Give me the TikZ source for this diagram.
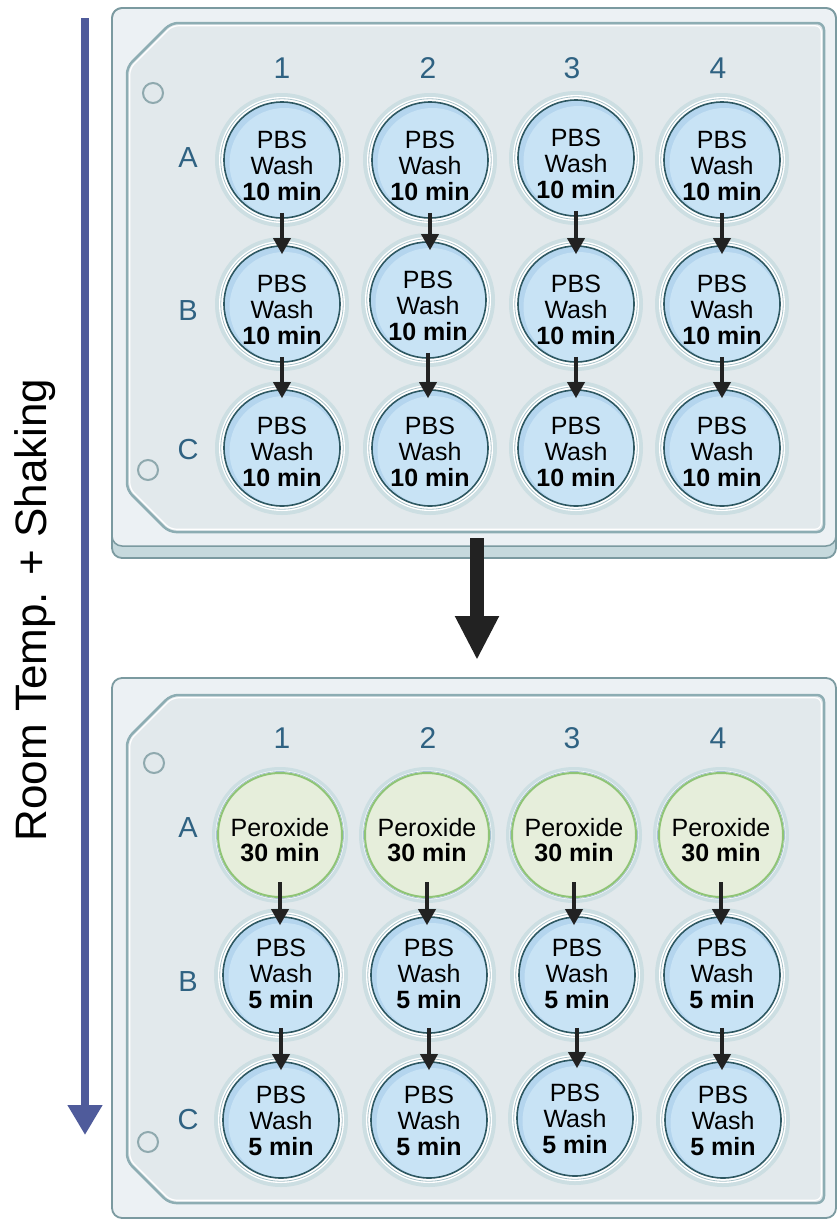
\documentclass[tikz,border=0pt]{standalone}
\usepackage{fontspec}
\setmainfont{Liberation Sans}
\usetikzlibrary{arrows.meta,calc}
\definecolor{platefill}{HTML}{ECF1F4}
\definecolor{plateedge}{HTML}{7B9AA0}
\definecolor{bevelfill}{HTML}{C6D9DD}
\definecolor{panelfill}{HTML}{E2E9EC}
\definecolor{panelline}{HTML}{8DADB3}
\definecolor{halocol}{HTML}{CCDEE2}
\definecolor{ringcol}{HTML}{A9C3CA}
\definecolor{pbsfill}{HTML}{C8E3F5}
\definecolor{pbsband}{HTML}{B4D5EE}
\definecolor{pbsedge}{HTML}{2E5862}
\definecolor{perfill}{HTML}{E6EEDB}
\definecolor{peredge}{HTML}{8FC476}
\definecolor{perring}{HTML}{A6C2D2}
\definecolor{labcol}{HTML}{2F6282}
\definecolor{sidecol}{HTML}{4F5B9B}
\definecolor{arrcol}{HTML}{222222}
\tikzset{
  pbs/.style={circle, minimum size=116pt, inner sep=0pt, fill=pbsfill, draw=pbsedge, line width=1.6pt,
    path picture={\fill[pbsband] (path picture bounding box.center) circle (58pt);
      \fill[pbsfill] ($(path picture bounding box.center)+(2.5pt,-3pt)$) circle (55pt);}},
  perox/.style={circle, minimum size=124pt, inner sep=0pt, fill=perfill, draw=peredge, line width=2pt},
  wtext/.style={align=center, inner sep=0pt, text=black, font=\fontsize{25pt}{26pt}\selectfont},
  ptext/.style={align=center, inner sep=0pt, text=black, font=\fontsize{25pt}{25pt}\selectfont},
  collab/.style={inner sep=0pt, text=labcol, font=\fontsize{30pt}{30pt}\selectfont},
  rowlab/.style={inner sep=0pt, text=labcol, font=\fontsize{29pt}{29pt}\selectfont},
  marker/.style={draw=plateedge!85, line width=2pt},
  warrow/.style={draw=arrcol, line width=3.5pt, -{Triangle[width=17pt,length=16pt]}, shorten <=-6pt, shorten >=-9pt},
}
\newcommand{\drawpanel}[2]{%
  \filldraw[fill=panelfill, draw=panelline, line width=2.5pt, rounded corners=7pt]
    (171,#1) -- (824,#1) -- (824,#2) -- (169,#2) -- (127,{#2-42}) -- (127,{#1+44}) -- cycle;
  \draw[white, line width=1.2pt, rounded corners=6pt]
    (172.2,{#1+2.8}) -- (821.2,{#1+2.8}) -- (821.2,{#2-2.8}) -- (170.2,{#2-2.8}) -- (129.8,{#2-43.2}) -- (129.8,{#1+45.2}) -- cycle;
}
\newcommand{\pbswell}[5]{%
  \fill[halocol] (#2,#3) circle (67pt);
  \fill[white] (#2,#3) circle (63pt);
  \draw[ringcol, line width=0.8pt] (#2,#3) circle (61.2pt);
  \node[pbs] (#1) at (#2,#3) {};
  \node[wtext] (#1t) at (#2,#4) {#5};
}
\newcommand{\perwell}[5]{%
  \fill[halocol] (#2,#3) circle (68pt);
  \fill[white] (#2,#3) circle (64.5pt);
  \draw[perring, line width=0.8pt] (#2,#3) circle (63.5pt);
  \node[perox] (#1) at (#2,#3) {};
  \node[ptext] (#1t) at (#2,#4) {#5};
}
\begin{document}
\begin{tikzpicture}[x=1pt,y=-1pt]
\useasboundingbox (0,0) rectangle (840,1221);
\fill[white] (0,0) rectangle (840,1221);

% ---------- top plate ----------
\fill[bevelfill, rounded corners=10pt] (112,8) rectangle (836,558);
\filldraw[fill=platefill, draw=plateedge, line width=1.5pt, rounded corners=10pt] (112,8) rectangle (836,546);
\draw[plateedge, line width=1.8pt, rounded corners=10pt] (112,8) rectangle (836,558);
\drawpanel{23}{532}
\draw[marker] (153,93) circle (10pt);
\draw[marker] (148,470) circle (10pt);

\node[collab] (tc1) at (282,68) {1};
\node[collab] (tc2) at (428,68) {2};
\node[collab] (tc3) at (572,68) {3};
\node[collab] (tc4) at (718,68) {4};
\node[rowlab] (trA) at (188,158) {A};
\node[rowlab] (trB) at (188,311) {B};
\node[rowlab] (trC) at (188,450) {C};

\pbswell{tA1}{282}{160}{166}{PBS\\Wash\\\textbf{10 min}}
\pbswell{tA2}{430}{160}{166}{PBS\\Wash\\\textbf{10 min}}
\pbswell{tA3}{576}{158}{164}{PBS\\Wash\\\textbf{10 min}}
\pbswell{tA4}{722}{160}{166}{PBS\\Wash\\\textbf{10 min}}
\pbswell{tB1}{282}{304}{310}{PBS\\Wash\\\textbf{10 min}}
\pbswell{tB2}{428}{300}{306}{PBS\\Wash\\\textbf{10 min}}
\pbswell{tB3}{576}{304}{310}{PBS\\Wash\\\textbf{10 min}}
\pbswell{tB4}{722}{304}{310}{PBS\\Wash\\\textbf{10 min}}
\pbswell{tC1}{282}{448}{452}{PBS\\Wash\\\textbf{10 min}}
\pbswell{tC2}{430}{448}{452}{PBS\\Wash\\\textbf{10 min}}
\pbswell{tC3}{576}{448}{452}{PBS\\Wash\\\textbf{10 min}}
\pbswell{tC4}{722}{448}{452}{PBS\\Wash\\\textbf{10 min}}

\foreach \c in {1,2,3,4}{
  \draw[warrow] (tA\c.south) -- (tA\c.south |- tB\c.north);
  \draw[warrow] (tB\c.south) -- (tB\c.south |- tC\c.north);
}

% ---------- big arrow ----------
\coordinate (bigs) at (477,538);
\coordinate (bige) at (477,660);
\draw[arrcol, line width=14pt, -{Triangle[width=41pt,length=44pt]}] (bigs) -- (bige);

% ---------- bottom plate ----------
\filldraw[fill=platefill, draw=plateedge, line width=1.8pt, rounded corners=10pt] (112,678) rectangle (836,1218);
\drawpanel{695}{1203}
\draw[marker] (154,763) circle (10pt);
\draw[marker] (148,1142) circle (10pt);

\node[collab] (bc1) at (282,738) {1};
\node[collab] (bc2) at (428,738) {2};
\node[collab] (bc3) at (572,738) {3};
\node[collab] (bc4) at (718,738) {4};
\node[rowlab] (brA) at (188,828) {A};
\node[rowlab] (brB) at (188,982) {B};
\node[rowlab] (brC) at (188,1120) {C};

\perwell{bA1}{280}{835}{840}{Peroxide\\\textbf{30 min}}
\perwell{bA2}{427}{835}{840}{Peroxide\\\textbf{30 min}}
\perwell{bA3}{574}{835}{840}{Peroxide\\\textbf{30 min}}
\perwell{bA4}{721}{835}{840}{Peroxide\\\textbf{30 min}}
\pbswell{bB1}{281}{975}{974}{PBS\\Wash\\\textbf{5 min}}
\pbswell{bB2}{429}{975}{974}{PBS\\Wash\\\textbf{5 min}}
\pbswell{bB3}{577}{975}{974}{PBS\\Wash\\\textbf{5 min}}
\pbswell{bB4}{722}{975}{974}{PBS\\Wash\\\textbf{5 min}}
\pbswell{bC1}{281}{1120}{1121}{PBS\\Wash\\\textbf{5 min}}
\pbswell{bC2}{429}{1120}{1121}{PBS\\Wash\\\textbf{5 min}}
\pbswell{bC3}{575}{1118}{1119}{PBS\\Wash\\\textbf{5 min}}
\pbswell{bC4}{723}{1120}{1121}{PBS\\Wash\\\textbf{5 min}}

\foreach \c in {1,2,3,4}{
  \draw[warrow, shorten <=-16pt] (bA\c.south) -- (bA\c.south |- bB\c.north);
  \draw[warrow] (bB\c.south) -- (bB\c.south |- bC\c.north);
}

% ---------- side arrow ----------
\coordinate (sides) at (85,18);
\coordinate (sidee) at (85,1135);
\draw[sidecol, line width=8pt, -{Triangle[width=33pt,length=30pt]}] (sides) -- (sidee);
\node[rotate=90, anchor=base, inner sep=0pt, font=\fontsize{44pt}{44pt}\selectfont] (sidelab) at (46,610) {Room Temp. + Shaking};
\end{tikzpicture}
\end{document}
